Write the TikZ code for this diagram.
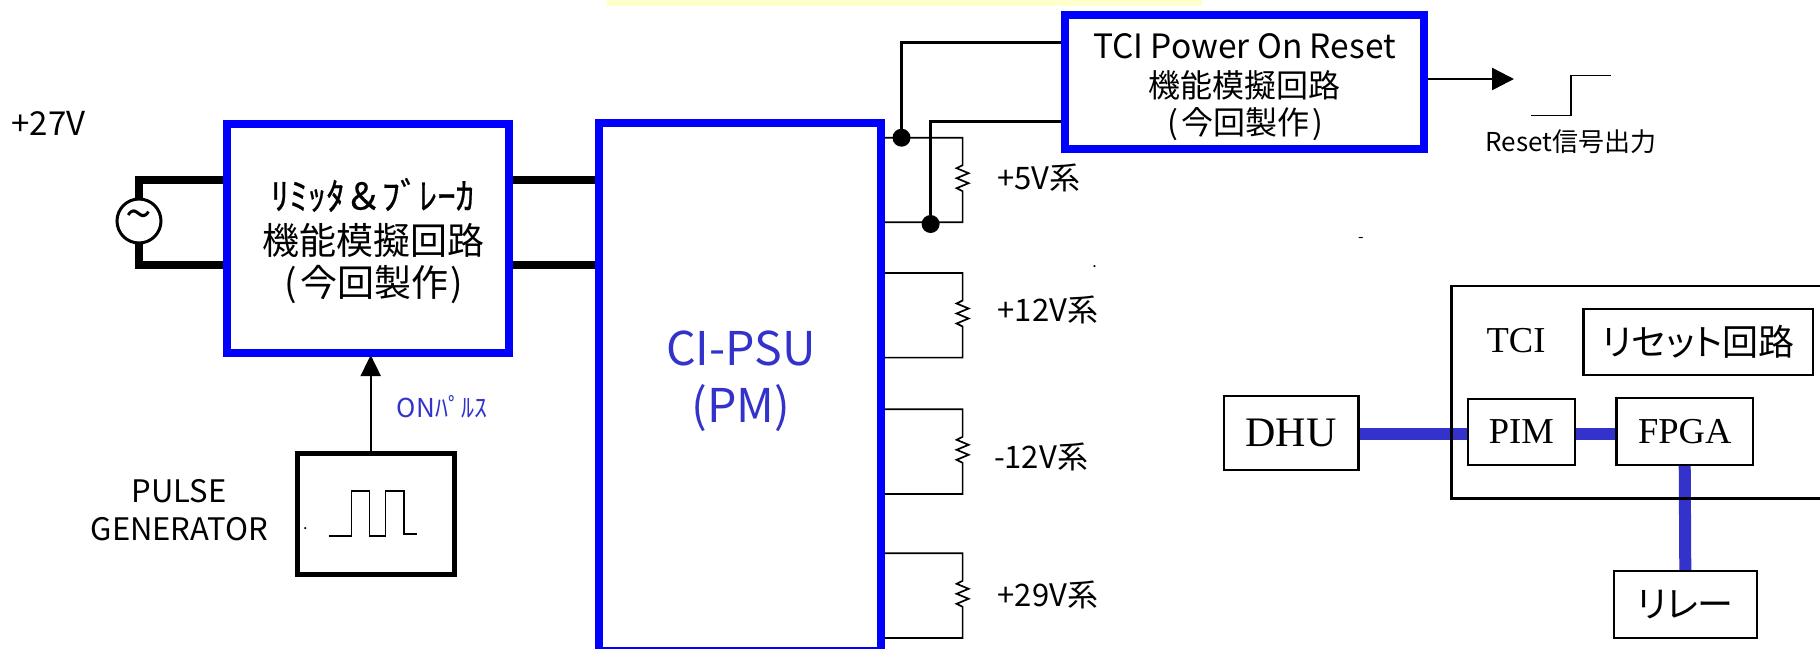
\documentclass[tikz,border=0pt]{standalone}
\usepackage{fontspec}
\setmainfont{Noto Sans CJK JP}
\newfontfamily\palt[RawFeature=+palt]{Noto Sans CJK JP}
\newfontfamily\heavier[FakeBold=0.6]{Noto Sans CJK JP}
\newfontfamily\serf{Liberation Serif}
\usetikzlibrary{arrows.meta,backgrounds,calc}
\definecolor{boxblue}{RGB}{0,0,255}
\definecolor{linkblue}{RGB}{51,51,204}
\definecolor{paleyellow}{RGB}{255,255,204}
\newcommand{\fsz}[1]{\fontsize{#1}{#1}\selectfont}
\tikzset{
  bluebox/.style={draw=boxblue,line width=8pt,fill=white,inner sep=0pt,outer sep=0pt,align=center,anchor=center},
  thinbox/.style={draw=black,line width=2.2pt,fill=white,inner sep=0pt,outer sep=0pt,align=center,anchor=center},
  txt/.style={inner sep=0pt,outer sep=0pt,align=center,anchor=center},
  powerline/.style={draw=black,line width=8pt,line cap=butt,line join=miter},
  wire/.style={draw=black,line width=2.5pt,line join=miter},
  loadwire/.style={draw=black,line width=1.7pt,line join=miter},
  bus/.style={draw=linkblue,line width=12pt},
  wave/.style={draw=black,line width=1.5pt,line join=miter},
  junction/.style={circle,fill=black,minimum size=18pt,inner sep=0pt,outer sep=0pt},
}
% load resistor: name, top wire y
\newcommand{\loadres}[2]{%
  \coordinate (#1t) at (962.6,#2);
  \coordinate (#1b) at (962.6,#2+84.6);
  \draw[loadwire] (#1t -| psu.east) -- (#1t)
    -- ++(0,27.5) -- ++(-6,3) -- ++(12,5) -- ++(-12,5) -- ++(12,5) -- ++(-12,5) -- ++(6,3)
    -- (#1b) -- (#1b -| psu.east);
}
\begin{document}
\begin{tikzpicture}[x=1pt,y=-1pt]
\useasboundingbox (0,0) rectangle (1820,648);
\clip (0,0) rectangle (1820,648);
\fill[paleyellow] (607,0) rectangle (1201.6,5.7);

% main boxes
\node[bluebox,minimum width=281.5pt,minimum height=229.8pt,font=\fsz{37}] (lim) at (368,238.4) {};
\node[bluebox,minimum width=281.5pt,minimum height=528pt] (psu) at (740.2,387.3) {};
\node[bluebox,minimum width=359pt,minimum height=134.6pt] (por) at (1244.5,82) {};
\node[draw=black,line width=5pt,fill=white,inner sep=0pt,outer sep=0pt,minimum width=157.5pt,minimum height=121pt] (gen) at (375.8,514.4) {};
\node[draw=black,circle,line width=3pt,fill=white,inner sep=0pt,outer sep=0pt,minimum size=44pt,font=\fsz{48}] (src) at (139,221) {\char"007E};

% box texts
\node[txt,font=\heavier\fsz{37}] (limA) at (372.5,195) {ﾘﾐｯﾀ＆ﾌﾞﾚｰｶ};
\node[txt,font=\fsz{37}] (limB) at (373.5,240) {機能模擬回路};
\node[txt,font=\fsz{37}] (limC) at (374,285) {(\kern3pt今回製作\kern3pt)};
\node[txt,font=\fsz{46.5}] (psuA) [text=linkblue] at (741,348) {CI-PSU};
\node[txt,font=\fsz{46.5}] (psuB) [text=linkblue] at (741,408) {(PM)};
\node[txt,font=\fsz{33.5}] (porA) at (1244.5,46) {TCI Power On Reset};
\node[txt,font=\fsz{32}] (porB) at (1244.5,85) {機能模擬回路};
\node[txt,font=\fsz{32}] (porC) at (1245.5,124) {(\kern3pt今回製作\kern3pt)};

% free labels
\node[txt,font=\fsz{33}] (v27) at (48.5,123) {+27V};
\node[txt,font=\fsz{26},text=linkblue] (onp) at (442,406.7) {ONﾊﾟﾙｽ};
\node[txt,font=\fsz{31}] (pulse) at (179.3,490.7) {PULSE};
\node[txt,font=\fsz{31}] (pgen) at (179.3,529) {GENERATOR};
\node[txt,font=\fsz{31}] (l5) at (1039,178.3) {+5V系};
\node[txt,font=\fsz{31}] (l12) at (1048,310) {+12V系};
\node[txt,font=\fsz{31}] (lm12) at (1041,456.7) {-12V系};
\node[txt,font=\fsz{31}] (l29) at (1048,595) {+29V系};
\node[txt,font=\fsz{26}] (rst) at (1571,141.7) {Reset信号出力};
\node[txt,font=\fsz{16}] (dotA) at (305.3,529) {.};
\node[txt,font=\fsz{16}] (dotB) at (1094.7,266.5) {.};
\node[txt,font=\fsz{16}] (dash) at (1361,239.7) {-};

% TCI block
\node[thinbox,draw=black,line width=2.5pt,fill=none,minimum width=400pt,minimum height=212.7pt] (tci) at (1651.5,392.3) {};
\node[txt,font=\serf\fsz{36.5}] (tciT) at (1516,340.7) {TCI};
\node[thinbox,minimum width=229.5pt,minimum height=66.3pt,font=\palt\fsz{36}] (rc) at (1698.2,341.8) {リセット回路};
\node[thinbox,minimum width=134.9pt,minimum height=74.3pt,font=\serf\fsz{42}] (dhu) at (1291.1,432.8) {DHU};
\node[thinbox,minimum width=107.3pt,minimum height=66.6pt,font=\serf\fsz{36.5}] (pim) at (1521.3,432) {PIM};
\node[thinbox,minimum width=136.6pt,minimum height=66.4pt,font=\serf\fsz{36.5}] (fpga) at (1684.7,431.5) {FPGA};
\node[thinbox,minimum width=143.4pt,minimum height=66.4pt,font=\palt\fsz{36}] (rly) at (1685.3,604.5) {リレー};

\begin{scope}[on background layer]
  % source to limiter to PSU
  \coordinate (a1) at (139,180);
  \coordinate (a2) at (139,265);
  \draw[powerline] (src.north) -- (a1) -- (a1 -| lim.west);
  \draw[powerline] (src.south) -- (a2) -- (a2 -| lim.west);
  \draw[powerline] (a1 -| lim.east) -- (a1 -| psu.west);
  \draw[powerline] (a2 -| lim.east) -- (a2 -| psu.west);
  % loads
  \loadres{rA}{137.7}
  \loadres{rB}{273}
  \loadres{rC}{409.3}
  \loadres{rD}{553.3}
  % sense wires
  \node[junction] (j1) at (901.5,137.7) {};
  \node[junction] (j2) at (930.6,224) {};
  \coordinate (c1) at (901.5,42.7);
  \coordinate (c2) at (930.6,121.7);
  \draw[wire] (j1) -- (c1) -- (c1 -| por.west);
  \draw[wire] (j2) -- (c2) -- (c2 -| por.west);
  % output arrow
  \coordinate (o1) at (1514,79);
  \draw[wire,-{Triangle[length=22pt,width=22pt]}] (o1 -| por.east) -- (o1);
  % on pulse arrow
  \coordinate (g1) at (370.7,355);
  \draw[draw=black,line width=1.8pt,-{Triangle[length=21pt,width=20pt]}] (g1 |- gen.north) -- (g1);
  % buses
  \draw[bus] ($(dhu.east)+(0,1.5)$) -- ($(pim.west)+(0,2.3)$);
  \draw[bus] ($(pim.east)+(0,1.7)$) -- ($(fpga.west)+(0,2.2)$);
  \draw[bus] (fpga.south) -- (rly.north);
\end{scope}

% pulse waveform
\coordinate (p0) at (329.3,536);
\coordinate (p1) at (417.3,534);
\draw[wave] (p0) -- (351.3,536) -- (351.3,491) -- (369.3,491) -- (369.3,536) -- (385.7,536) -- (385.7,491) -- (404,491) -- (404,534) -- (p1);
% reset step
\coordinate (s0) at (1531,115.7);
\coordinate (s1) at (1611,75.3);
\draw[wave] (s0) -- (1571,115.7) -- (1571,75.3) -- (s1);
\end{tikzpicture}
\end{document}
